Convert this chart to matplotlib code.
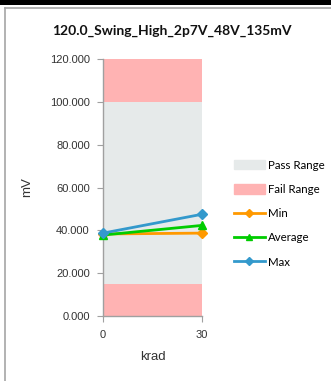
import matplotlib
matplotlib.use("Agg")
import matplotlib.pyplot as plt
from matplotlib.patches import Rectangle, Patch
from matplotlib.lines import Line2D

title = "120.0_Swing_High_2p7V_48V_135mV"
krad = [0, 30]
min_vals = [38.3, 38.7]
avg_vals = [37.8, 42.3]
max_vals = [38.7, 47.5]
pass_range = (15, 100)
fail_low = (0, 15)
fail_high = (100, 120)
yticks = [0, 20, 40, 60, 80, 100, 120]

W, H = 331, 381
fig = plt.figure(figsize=(W/100, H/100), dpi=100)
fig.patch.set_facecolor("white")

# top black bar and frame lines
fig.add_artist(Rectangle((0, 1 - 4.5/H), 1, 4.5/H, transform=fig.transFigure,
                         facecolor="black", edgecolor="none"))
fig.add_artist(Line2D([4.5/W, 4.5/W], [0, 1 - 7.5/H], transform=fig.transFigure,
                      color="#a6a6a6", lw=1.2))
fig.add_artist(Line2D([4.5/W, 1], [1 - 7.5/H, 1 - 7.5/H], transform=fig.transFigure,
                      color="#a6a6a6", lw=1.2))

ax = fig.add_axes([103/W, 1 - 316/H, 99/W, 257/H])
pass_c = "#e6eaea"
fail_c = "#ffb3b3"
ax.fill_between(krad, pass_range[0], pass_range[1], color=pass_c, lw=0)
ax.fill_between(krad, fail_low[0], fail_low[1], color=fail_c, lw=0)
ax.fill_between(krad, fail_high[0], fail_high[1], color=fail_c, lw=0)

orange = "#ff9900"
green = "#00cc00"
blue = "#3399cc"
ax.plot(krad, min_vals, color=orange, lw=2, marker="D", ms=5, clip_on=False, zorder=3)
ax.plot(krad, avg_vals, color=green, lw=2, marker="^", ms=6, clip_on=False, zorder=4)
ax.plot(krad, max_vals, color=blue, lw=2, marker="D", ms=5, clip_on=False, zorder=5)

ax.set_xlim(0, 30)
ax.set_ylim(0, 120)
ax.set_xticks(krad)
ax.set_yticks(yticks)
ax.set_yticklabels([f"{v:.3f}" for v in yticks])
for s in ["top", "right"]:
    ax.spines[s].set_visible(False)
for s in ["left", "bottom"]:
    ax.spines[s].set_color("#a0a0a0")
    ax.spines[s].set_linewidth(1)
ax.tick_params(axis="both", colors="#a0a0a0", labelcolor="#333333", length=4,
               labelsize=8)
ax.tick_params(axis="y", pad=5.5)
ax.tick_params(axis="x", pad=6)
for lab in ax.get_xticklabels() + ax.get_yticklabels():
    lab.set_family("Liberation Sans")
ax.set_xlabel("krad", fontsize=9.5, family="Liberation Sans", color="#333333", labelpad=8)
ax.set_ylabel("mV", fontsize=9.5, family="Liberation Sans", color="#333333", labelpad=12)

fig.text(172/W, 1 - 31/H, title, ha="center", va="center", fontsize=10,
         fontweight="bold", family="Lato", color="#111111")

handles = [Patch(color=pass_c), Patch(color=fail_c),
           Line2D([], [], color=orange, lw=2, marker="D", ms=4),
           Line2D([], [], color=green, lw=2, marker="^", ms=5),
           Line2D([], [], color=blue, lw=2, marker="D", ms=4)]
labels = ["Pass Range", "Fail Range", "Min", "Average", "Max"]
fig.legend(handles, labels, loc="upper left", bbox_to_anchor=(229/W, 1 - 155/H),
           frameon=False, handlelength=2.7, handleheight=0.9,
           handletextpad=0.3, labelspacing=1.15, borderaxespad=0,
           prop={"family": "Lato", "size": 8.3})

fig.savefig("out.png", dpi=100)
